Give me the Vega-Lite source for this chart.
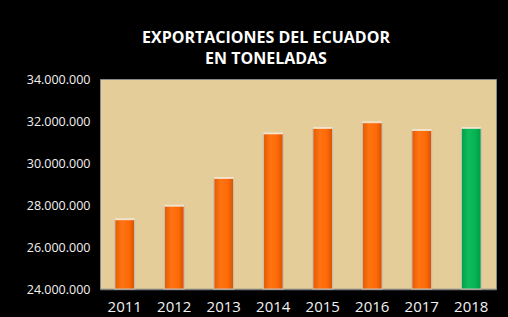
{
  "$schema": "https://vega.github.io/schema/vega-lite/v6.json",
  "width": 396,
  "height": 210,
  "autosize": {"type": "none"},
  "padding": {"left": 100, "top": 79, "right": 12, "bottom": 28},
  "background": "#000000",
  "title": {
    "text": ["EXPORTACIONES  DEL ECUADOR", "EN TONELADAS"],
    "color": "#ffffff",
    "font": "Open Sans",
    "fontSize": 16,
    "fontWeight": "bold",
    "lineHeight": 21,
    "anchor": "middle",
    "dx": -32,
    "offset": 6
  },
  "data": {
    "values": [
      {"year": "2011", "value": 27320000, "group": "hist"},
      {"year": "2012", "value": 27970000, "group": "hist"},
      {"year": "2013", "value": 29290000, "group": "hist"},
      {"year": "2014", "value": 31410000, "group": "hist"},
      {"year": "2015", "value": 31670000, "group": "hist"},
      {"year": "2016", "value": 31940000, "group": "hist"},
      {"year": "2017", "value": 31570000, "group": "hist"},
      {"year": "2018", "value": 31670000, "group": "last"}
    ]
  },
  "encoding": {
    "x": {
      "field": "year",
      "type": "ordinal",
      "scale": {"paddingInner": 0.6, "paddingOuter": 0.3},
      "axis": {
        "title": null,
        "labelAngle": 0,
        "labelColor": "#f2f2f2",
        "labelFont": "Open Sans",
        "labelFontSize": 15,
        "labelPadding": 10,
        "ticks": false,
        "domain": true,
        "domainColor": "#808080",
        "domainWidth": 1.5
      }
    },
    "y": {
      "field": "value",
      "type": "quantitative",
      "scale": {"domain": [24000000, 34000000], "zero": false, "nice": false},
      "axis": {
        "title": null,
        "values": [24000000, 26000000, 28000000, 30000000, 32000000, 34000000],
        "labelExpr": "replace(format(datum.value, ','), /,/g, '.')",
        "labelColor": "#f2f2f2",
        "labelFont": "Open Sans",
        "labelFontSize": 12.5,
        "labelPadding": 10,
        "ticks": false,
        "domain": false,
        "grid": false
      }
    }
  },
  "layer": [
    {
      "transform": [{"filter": "datum.group == 'hist'"}],
      "mark": {
        "type": "bar",
        "stroke": "#c9c1b4",
        "strokeWidth": 1.2,
        "color": {
          "gradient": "linear",
          "x1": 0, "y1": 0, "x2": 1, "y2": 0,
          "stops": [
            {"offset": 0, "color": "#e25a00"},
            {"offset": 0.35, "color": "#ff7312"},
            {"offset": 0.7, "color": "#ff6a08"},
            {"offset": 1, "color": "#d65200"}
          ]
        }
      },
      "encoding": {"y2": {"datum": 24000000}}
    },
    {
      "transform": [{"filter": "datum.group == 'last'"}],
      "mark": {
        "type": "bar",
        "stroke": "#c9c1b4",
        "strokeWidth": 1.2,
        "color": {
          "gradient": "linear",
          "x1": 0, "y1": 0, "x2": 1, "y2": 0,
          "stops": [
            {"offset": 0, "color": "#00a048"},
            {"offset": 0.35, "color": "#10bb5a"},
            {"offset": 0.7, "color": "#06b354"},
            {"offset": 1, "color": "#009a44"}
          ]
        }
      },
      "encoding": {"y2": {"datum": 24000000}}
    },
    {
      "mark": {"type": "tick", "color": "#fff2dc", "thickness": 2, "bandSize": 18},
      "encoding": {}
    }
  ],
  "config": {
    "view": {"fill": "#e4cd99", "stroke": "#8a8a8a", "strokeWidth": 1}
  }
}
